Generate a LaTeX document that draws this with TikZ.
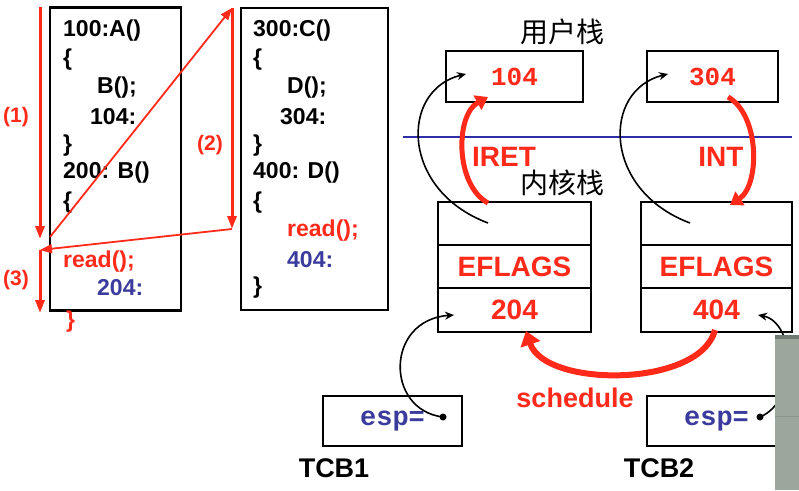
\documentclass[tikz,border=0pt]{standalone}
\usepackage{fontspec}
\setmainfont{Liberation Sans}
\newfontfamily\cjk{Noto Sans CJK SC}
\newfontfamily\monofnt{Liberation Mono}
\usetikzlibrary{arrows.meta}
\definecolor{myred}{HTML}{FF2A1A}
\definecolor{myblue}{HTML}{3B3B9E}
\definecolor{lineblue}{HTML}{2E2EA8}
\definecolor{panel}{HTML}{9BA69D}
\definecolor{paneldark}{HTML}{6F7A72}
\begin{document}
\begin{tikzpicture}[x=1pt,y=-1pt,
  code/.style={anchor=west,inner sep=0pt,font=\fontsize{23}{26}\selectfont\bfseries},
  lbl/.style={inner sep=0pt,text=myred,font=\fontsize{21}{24}\selectfont\bfseries},
  box/.style={draw=black,line width=2.2pt,inner sep=0pt},
  big/.style={inner sep=0pt,font=\fontsize{28}{30}\selectfont\bfseries},
  cn/.style={inner sep=0pt,font=\fontsize{28}{30}\selectfont\cjk},
  monotxt/.style={font=\fontsize{27}{30}\selectfont\monofnt\bfseries},
  redthin/.style={draw=myred,line width=1.8pt,-{Triangle[length=12pt,width=9pt]}},
  redvert/.style={draw=myred,line width=3pt,-{Triangle[length=13pt,width=9pt]}},
  redthick/.style={draw=myred,line width=5pt,-{Triangle[length=12pt,width=16pt]}},
  blackarc/.style={draw=black,line width=1.6pt,-{Stealth[length=9pt,width=8pt]}}
]
\useasboundingbox (0,0) rectangle (799,490);
\fill[white] (0,0) rectangle (799,490);

% ---------- code boxes ----------
\node[box,minimum width=131pt,minimum height=303pt] (boxA) at (115.5,159) {};
\node[box,minimum width=147pt,minimum height=302pt] (boxC) at (314.5,159) {};

\node[code] (a1) at (63,31) {100:A()};
\node[code] (a2) at (63,60) {\{};
\node[code] (a3) at (97,88) {B();};
\node[code] (a4) at (90,117) {104:};
\node[code] (a5) at (63,146) {\}};
\node[code] (a6) at (63,173) {200: B()};
\node[code] (a7) at (63,203) {\{};
\node[code,text=myred] (a8) at (63,262) {read();};
\node[code,text=myblue] (a9) at (97,288) {204:};
\node[code,text=myred] (a10) at (66,322) {\}};

\node[code] (c1) at (253,31) {300:C()};
\node[code] (c2) at (253,60) {\{};
\node[code] (c3) at (287,88) {D();};
\node[code] (c4) at (280,117) {304:};
\node[code] (c5) at (253,146) {\}};
\node[code] (c6) at (253,173) {400: D()};
\node[code] (c7) at (253,203) {\{};
\node[code,text=myred] (c8) at (287,231) {read();};
\node[code,text=myblue] (c9) at (287,260) {404:};
\node[code] (c10) at (253,288) {\}};

% ---------- red flow arrows ----------
\coordinate (p1s) at (40,7);
\coordinate (p1e) at (40,239);
\coordinate (d1s) at (50,237);
\coordinate (top2) at (232,8);
\coordinate (p2e) at (232,229);
\coordinate (r2s) at (232,229);
\coordinate (p3s) at (40,250);
\coordinate (p3e) at (40,313);
\draw[redvert] (p1s) -- (p1e);
\draw[redthin] (d1s) -- (top2);
\draw[redvert] (top2) -- (p2e);
\draw[redthin] (r2s) -- (p3s);
\draw[redvert] (p3s) -- (p3e);
\node[lbl] (l1) at (16,117) {(1)};
\node[lbl] (l2) at (210,145) {(2)};
\node[lbl] (l3) at (16,280) {(3)};

% ---------- stacks ----------
\node[cn] (ustk) at (562,32) {用户栈};
\node[box,minimum width=137pt,minimum height=51pt,text=myred,font=\fontsize{26}{28}\selectfont\monofnt\bfseries] (ub1) at (514.5,76.5) {104};
\node[box,minimum width=131pt,minimum height=51pt,text=myred,font=\fontsize{26}{28}\selectfont\monofnt\bfseries] (ub2) at (712.5,76.5) {304};

\coordinate (bl1) at (403,137);
\coordinate (bl2) at (792,137);
\draw[lineblue,line width=2.5pt] (bl1) -- (bl2);

\node[big,text=myred] (iret) at (504,157) {IRET};
\node[big,text=myred] (int) at (721,157) {INT};
\node[cn] (kstk) at (562,183) {内核栈};

\node[box,minimum width=153pt,minimum height=43pt] (k1a) at (514.5,223.5) {};
\node[box,minimum width=153pt,minimum height=43pt,big,text=myred] (k1b) at (514.5,266.5) {EFLAGS};
\node[box,minimum width=153pt,minimum height=44pt,big,text=myred] (k1c) at (514.5,310) {204};
\node[box,minimum width=151pt,minimum height=43pt] (k2a) at (716.5,223.5) {};
\node[box,minimum width=151pt,minimum height=43pt,big,text=myred] (k2b) at (716.5,266.5) {EFLAGS};
\node[box,minimum width=151pt,minimum height=44pt,big,text=myred] (k2c) at (716.5,310) {404};

% IRET / INT arcs
\coordinate (irs) at (488,203);
\coordinate (ire) at (488,97);
\draw[redthick] (irs) .. controls (455,185) and (455,115) .. (ire);
\coordinate (ins) at (728,97);
\coordinate (ine) at (730,205);
\draw[redthick] (ins) .. controls (760,115) and (760,185) .. (ine);

% black return arcs
\coordinate (b1s) at (488,223);
\coordinate (b1e) at (466,74);
\draw[blackarc] (b1s) .. controls (400,190) and (400,90) .. (b1e);
\coordinate (b2s) at (690,223);
\coordinate (b2e) at (668,74);
\draw[blackarc] (b2s) .. controls (602,190) and (602,90) .. (b2e);

% ---------- TCBs ----------
\node[box,minimum width=139pt,minimum height=50pt,monotxt,text=myblue] (t1) at (392.5,421) {esp=};
\node[box,minimum width=139pt,minimum height=50pt,monotxt,text=myblue] (t2) at (716.5,421) {esp=};
\node[big,text=black,font=\fontsize{27}{30}\selectfont\bfseries] (tcb1) at (334,468) {TCB1};
\node[big,text=black,font=\fontsize{27}{30}\selectfont\bfseries] (tcb2) at (659,468) {TCB2};

\coordinate (dot1) at (443,417);
\coordinate (dot2) at (760,417);
\fill (dot1) circle (3.5pt);
\fill (dot2) circle (3.5pt);
\coordinate (e1) at (454,315);
\coordinate (e2) at (758,315);
\draw[blackarc] (dot1) .. controls (385,410) and (385,320) .. (e1);
\draw[blackarc] (dot2) .. controls (800,400) and (795,322) .. (e2);

% schedule arrow
\coordinate (ss) at (715,330);
\coordinate (se) at (526,331);
\draw[redthick,line width=6pt,-{Triangle[length=14pt,width=20pt]}] (ss) .. controls (700,388) and (545,388) .. (se);
\node[big,text=myred,font=\fontsize{27}{30}\selectfont\bfseries] (sched) at (575,398) {schedule};

% ---------- overlay panel ----------
\fill[panel] (775,335) rectangle (799,490);
\fill[paneldark] (775,335) rectangle (799,339);
\draw[paneldark!80,line width=1pt] (775,416) -- (799,416);
\end{tikzpicture}
\end{document}
